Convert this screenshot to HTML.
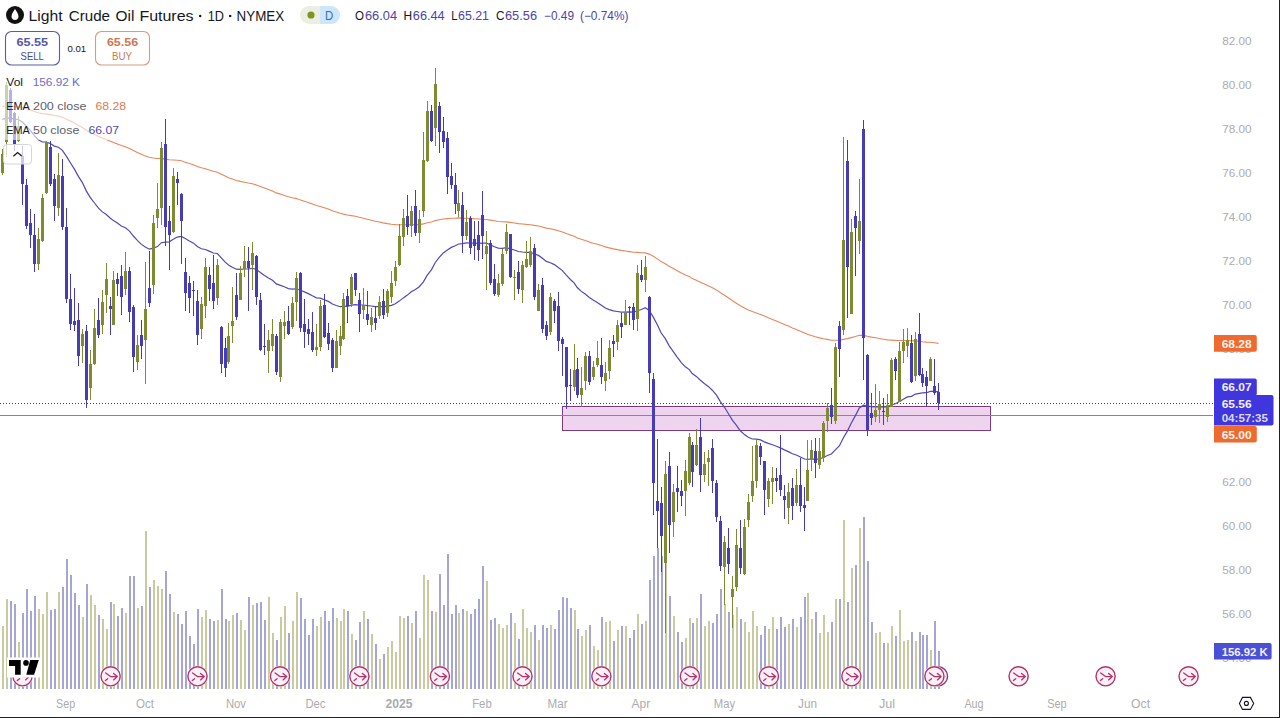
<!DOCTYPE html>
<html><head><meta charset="utf-8"><style>
html,body{margin:0;padding:0;background:#fff;}
body{width:1280px;height:718px;overflow:hidden;position:relative;}
svg{position:absolute;left:0;top:0;font-family:"Liberation Sans", sans-serif;}
</style></head><body>
<svg width="1280" height="718" viewBox="0 0 1280 718">
<g shape-rendering="crispEdges"><rect x="2" y="626" width="2" height="63" fill="#c8caa0"/><rect x="6" y="599" width="2" height="90" fill="#c8caa0"/><rect x="10" y="601" width="2" height="88" fill="#a6a6d6"/><rect x="14" y="604" width="2" height="85" fill="#a6a6d6"/><rect x="18" y="642" width="2" height="47" fill="#c8caa0"/><rect x="22" y="613" width="2" height="76" fill="#a6a6d6"/><rect x="26" y="589" width="2" height="100" fill="#a6a6d6"/><rect x="30" y="611" width="2" height="78" fill="#a6a6d6"/><rect x="34" y="596" width="2" height="93" fill="#a6a6d6"/><rect x="38" y="609" width="2" height="80" fill="#c8caa0"/><rect x="42" y="614" width="2" height="75" fill="#c8caa0"/><rect x="46" y="592" width="2" height="97" fill="#c8caa0"/><rect x="50" y="610" width="2" height="79" fill="#a6a6d6"/><rect x="54" y="609" width="2" height="80" fill="#a6a6d6"/><rect x="58" y="592" width="2" height="97" fill="#c8caa0"/><rect x="62" y="587" width="2" height="102" fill="#a6a6d6"/><rect x="66" y="559" width="2" height="130" fill="#a6a6d6"/><rect x="70" y="575" width="2" height="114" fill="#a6a6d6"/><rect x="74" y="593" width="2" height="96" fill="#a6a6d6"/><rect x="78" y="605" width="2" height="84" fill="#a6a6d6"/><rect x="82" y="617" width="2" height="72" fill="#c8caa0"/><rect x="86" y="584" width="2" height="105" fill="#a6a6d6"/><rect x="90" y="595" width="2" height="94" fill="#c8caa0"/><rect x="94" y="605" width="2" height="84" fill="#c8caa0"/><rect x="98" y="615" width="2" height="74" fill="#a6a6d6"/><rect x="102" y="619" width="2" height="70" fill="#c8caa0"/><rect x="106" y="629" width="2" height="60" fill="#c8caa0"/><rect x="110" y="602" width="2" height="87" fill="#a6a6d6"/><rect x="113" y="604" width="2" height="85" fill="#c8caa0"/><rect x="117" y="616" width="2" height="73" fill="#a6a6d6"/><rect x="121" y="608" width="2" height="81" fill="#a6a6d6"/><rect x="125" y="613" width="2" height="76" fill="#c8caa0"/><rect x="129" y="576" width="2" height="113" fill="#a6a6d6"/><rect x="133" y="576" width="2" height="113" fill="#a6a6d6"/><rect x="137" y="608" width="2" height="81" fill="#c8caa0"/><rect x="141" y="606" width="2" height="83" fill="#a6a6d6"/><rect x="145" y="531" width="2" height="158" fill="#c8caa0"/><rect x="149" y="587" width="2" height="102" fill="#a6a6d6"/><rect x="153" y="580" width="2" height="109" fill="#c8caa0"/><rect x="157" y="586" width="2" height="103" fill="#c8caa0"/><rect x="161" y="589" width="2" height="100" fill="#c8caa0"/><rect x="165" y="571" width="2" height="118" fill="#a6a6d6"/><rect x="169" y="594" width="2" height="95" fill="#a6a6d6"/><rect x="173" y="612" width="2" height="77" fill="#c8caa0"/><rect x="177" y="614" width="2" height="75" fill="#a6a6d6"/><rect x="181" y="624" width="2" height="65" fill="#a6a6d6"/><rect x="185" y="611" width="2" height="78" fill="#a6a6d6"/><rect x="189" y="636" width="2" height="53" fill="#a6a6d6"/><rect x="193" y="644" width="2" height="45" fill="#a6a6d6"/><rect x="197" y="609" width="2" height="80" fill="#a6a6d6"/><rect x="201" y="617" width="2" height="72" fill="#c8caa0"/><rect x="205" y="610" width="2" height="79" fill="#c8caa0"/><rect x="209" y="619" width="2" height="70" fill="#a6a6d6"/><rect x="213" y="621" width="2" height="68" fill="#a6a6d6"/><rect x="217" y="620" width="2" height="69" fill="#c8caa0"/><rect x="221" y="589" width="2" height="100" fill="#a6a6d6"/><rect x="225" y="619" width="2" height="70" fill="#a6a6d6"/><rect x="228" y="621" width="2" height="68" fill="#c8caa0"/><rect x="232" y="615" width="2" height="74" fill="#c8caa0"/><rect x="236" y="613" width="2" height="76" fill="#a6a6d6"/><rect x="240" y="620" width="2" height="69" fill="#c8caa0"/><rect x="244" y="630" width="2" height="59" fill="#c8caa0"/><rect x="248" y="597" width="2" height="92" fill="#a6a6d6"/><rect x="252" y="605" width="2" height="84" fill="#c8caa0"/><rect x="256" y="603" width="2" height="86" fill="#a6a6d6"/><rect x="260" y="602" width="2" height="87" fill="#a6a6d6"/><rect x="264" y="620" width="2" height="69" fill="#a6a6d6"/><rect x="268" y="597" width="2" height="92" fill="#c8caa0"/><rect x="272" y="633" width="2" height="56" fill="#c8caa0"/><rect x="276" y="640" width="2" height="49" fill="#a6a6d6"/><rect x="280" y="617" width="2" height="72" fill="#c8caa0"/><rect x="284" y="606" width="2" height="83" fill="#c8caa0"/><rect x="288" y="633" width="2" height="56" fill="#a6a6d6"/><rect x="292" y="621" width="2" height="68" fill="#c8caa0"/><rect x="296" y="592" width="2" height="97" fill="#c8caa0"/><rect x="300" y="598" width="2" height="91" fill="#a6a6d6"/><rect x="304" y="619" width="2" height="70" fill="#a6a6d6"/><rect x="308" y="635" width="2" height="54" fill="#a6a6d6"/><rect x="312" y="619" width="2" height="70" fill="#a6a6d6"/><rect x="316" y="626" width="2" height="63" fill="#c8caa0"/><rect x="320" y="617" width="2" height="72" fill="#c8caa0"/><rect x="324" y="611" width="2" height="78" fill="#a6a6d6"/><rect x="328" y="621" width="2" height="68" fill="#a6a6d6"/><rect x="332" y="608" width="2" height="81" fill="#a6a6d6"/><rect x="336" y="618" width="2" height="71" fill="#c8caa0"/><rect x="340" y="621" width="2" height="68" fill="#c8caa0"/><rect x="343" y="609" width="2" height="80" fill="#c8caa0"/><rect x="347" y="611" width="2" height="78" fill="#a6a6d6"/><rect x="351" y="634" width="2" height="55" fill="#c8caa0"/><rect x="355" y="640" width="2" height="49" fill="#a6a6d6"/><rect x="359" y="622" width="2" height="67" fill="#a6a6d6"/><rect x="363" y="611" width="2" height="78" fill="#c8caa0"/><rect x="367" y="619" width="2" height="70" fill="#a6a6d6"/><rect x="371" y="634" width="2" height="55" fill="#c8caa0"/><rect x="375" y="644" width="2" height="45" fill="#a6a6d6"/><rect x="379" y="659" width="2" height="30" fill="#c8caa0"/><rect x="383" y="654" width="2" height="35" fill="#a6a6d6"/><rect x="387" y="647" width="2" height="42" fill="#c8caa0"/><rect x="391" y="641" width="2" height="48" fill="#c8caa0"/><rect x="395" y="652" width="2" height="37" fill="#c8caa0"/><rect x="399" y="616" width="2" height="73" fill="#c8caa0"/><rect x="403" y="618" width="2" height="71" fill="#c8caa0"/><rect x="407" y="616" width="2" height="73" fill="#a6a6d6"/><rect x="411" y="623" width="2" height="66" fill="#c8caa0"/><rect x="415" y="611" width="2" height="78" fill="#a6a6d6"/><rect x="419" y="638" width="2" height="51" fill="#c8caa0"/><rect x="423" y="575" width="2" height="114" fill="#c8caa0"/><rect x="427" y="580" width="2" height="109" fill="#c8caa0"/><rect x="431" y="611" width="2" height="78" fill="#a6a6d6"/><rect x="435" y="612" width="2" height="77" fill="#c8caa0"/><rect x="439" y="574" width="2" height="115" fill="#a6a6d6"/><rect x="443" y="605" width="2" height="84" fill="#a6a6d6"/><rect x="447" y="554" width="2" height="135" fill="#a6a6d6"/><rect x="451" y="614" width="2" height="75" fill="#a6a6d6"/><rect x="455" y="605" width="2" height="84" fill="#a6a6d6"/><rect x="458" y="613" width="2" height="76" fill="#c8caa0"/><rect x="462" y="609" width="2" height="80" fill="#a6a6d6"/><rect x="466" y="611" width="2" height="78" fill="#c8caa0"/><rect x="470" y="614" width="2" height="75" fill="#a6a6d6"/><rect x="474" y="609" width="2" height="80" fill="#a6a6d6"/><rect x="478" y="599" width="2" height="90" fill="#a6a6d6"/><rect x="482" y="566" width="2" height="123" fill="#a6a6d6"/><rect x="486" y="581" width="2" height="108" fill="#c8caa0"/><rect x="490" y="620" width="2" height="69" fill="#a6a6d6"/><rect x="494" y="618" width="2" height="71" fill="#a6a6d6"/><rect x="498" y="624" width="2" height="65" fill="#c8caa0"/><rect x="502" y="628" width="2" height="61" fill="#c8caa0"/><rect x="506" y="625" width="2" height="64" fill="#c8caa0"/><rect x="510" y="613" width="2" height="76" fill="#a6a6d6"/><rect x="514" y="623" width="2" height="66" fill="#c8caa0"/><rect x="518" y="639" width="2" height="50" fill="#a6a6d6"/><rect x="522" y="609" width="2" height="80" fill="#c8caa0"/><rect x="526" y="628" width="2" height="61" fill="#c8caa0"/><rect x="530" y="632" width="2" height="57" fill="#c8caa0"/><rect x="534" y="625" width="2" height="64" fill="#a6a6d6"/><rect x="538" y="640" width="2" height="49" fill="#c8caa0"/><rect x="542" y="625" width="2" height="64" fill="#a6a6d6"/><rect x="546" y="628" width="2" height="61" fill="#a6a6d6"/><rect x="550" y="625" width="2" height="64" fill="#c8caa0"/><rect x="554" y="629" width="2" height="60" fill="#a6a6d6"/><rect x="558" y="610" width="2" height="79" fill="#a6a6d6"/><rect x="562" y="597" width="2" height="92" fill="#a6a6d6"/><rect x="566" y="598" width="2" height="91" fill="#a6a6d6"/><rect x="570" y="608" width="2" height="81" fill="#a6a6d6"/><rect x="574" y="610" width="2" height="79" fill="#c8caa0"/><rect x="577" y="629" width="2" height="60" fill="#a6a6d6"/><rect x="581" y="636" width="2" height="53" fill="#c8caa0"/><rect x="585" y="630" width="2" height="59" fill="#c8caa0"/><rect x="589" y="625" width="2" height="64" fill="#a6a6d6"/><rect x="593" y="646" width="2" height="43" fill="#c8caa0"/><rect x="597" y="650" width="2" height="39" fill="#c8caa0"/><rect x="601" y="617" width="2" height="72" fill="#a6a6d6"/><rect x="605" y="622" width="2" height="67" fill="#c8caa0"/><rect x="609" y="621" width="2" height="68" fill="#c8caa0"/><rect x="613" y="641" width="2" height="48" fill="#a6a6d6"/><rect x="617" y="630" width="2" height="59" fill="#c8caa0"/><rect x="621" y="626" width="2" height="63" fill="#a6a6d6"/><rect x="625" y="626" width="2" height="63" fill="#c8caa0"/><rect x="629" y="638" width="2" height="51" fill="#a6a6d6"/><rect x="633" y="630" width="2" height="59" fill="#a6a6d6"/><rect x="637" y="614" width="2" height="75" fill="#c8caa0"/><rect x="641" y="624" width="2" height="65" fill="#a6a6d6"/><rect x="645" y="621" width="2" height="68" fill="#c8caa0"/><rect x="649" y="580" width="2" height="109" fill="#a6a6d6"/><rect x="653" y="556" width="2" height="133" fill="#a6a6d6"/><rect x="657" y="548" width="2" height="141" fill="#a6a6d6"/><rect x="661" y="556" width="2" height="133" fill="#a6a6d6"/><rect x="665" y="545" width="2" height="144" fill="#c8caa0"/><rect x="669" y="596" width="2" height="93" fill="#a6a6d6"/><rect x="673" y="616" width="2" height="73" fill="#c8caa0"/><rect x="677" y="632" width="2" height="57" fill="#a6a6d6"/><rect x="681" y="642" width="2" height="47" fill="#a6a6d6"/><rect x="685" y="638" width="2" height="51" fill="#c8caa0"/><rect x="689" y="618" width="2" height="71" fill="#c8caa0"/><rect x="692" y="623" width="2" height="66" fill="#a6a6d6"/><rect x="696" y="618" width="2" height="71" fill="#c8caa0"/><rect x="700" y="594" width="2" height="95" fill="#a6a6d6"/><rect x="704" y="626" width="2" height="63" fill="#c8caa0"/><rect x="708" y="621" width="2" height="68" fill="#c8caa0"/><rect x="712" y="623" width="2" height="66" fill="#a6a6d6"/><rect x="716" y="614" width="2" height="75" fill="#a6a6d6"/><rect x="720" y="589" width="2" height="100" fill="#a6a6d6"/><rect x="724" y="604" width="2" height="85" fill="#c8caa0"/><rect x="728" y="612" width="2" height="77" fill="#a6a6d6"/><rect x="732" y="615" width="2" height="74" fill="#c8caa0"/><rect x="736" y="607" width="2" height="82" fill="#c8caa0"/><rect x="740" y="619" width="2" height="70" fill="#a6a6d6"/><rect x="744" y="622" width="2" height="67" fill="#c8caa0"/><rect x="748" y="632" width="2" height="57" fill="#c8caa0"/><rect x="752" y="611" width="2" height="78" fill="#c8caa0"/><rect x="756" y="626" width="2" height="63" fill="#c8caa0"/><rect x="760" y="635" width="2" height="54" fill="#a6a6d6"/><rect x="764" y="626" width="2" height="63" fill="#a6a6d6"/><rect x="768" y="629" width="2" height="60" fill="#c8caa0"/><rect x="772" y="617" width="2" height="72" fill="#c8caa0"/><rect x="776" y="629" width="2" height="60" fill="#a6a6d6"/><rect x="780" y="617" width="2" height="72" fill="#a6a6d6"/><rect x="784" y="627" width="2" height="62" fill="#a6a6d6"/><rect x="788" y="624" width="2" height="65" fill="#c8caa0"/><rect x="792" y="619" width="2" height="70" fill="#a6a6d6"/><rect x="796" y="627" width="2" height="62" fill="#c8caa0"/><rect x="800" y="617" width="2" height="72" fill="#a6a6d6"/><rect x="804" y="597" width="2" height="92" fill="#a6a6d6"/><rect x="807" y="593" width="2" height="96" fill="#c8caa0"/><rect x="811" y="619" width="2" height="70" fill="#c8caa0"/><rect x="815" y="612" width="2" height="77" fill="#a6a6d6"/><rect x="819" y="633" width="2" height="56" fill="#c8caa0"/><rect x="823" y="615" width="2" height="74" fill="#c8caa0"/><rect x="827" y="632" width="2" height="57" fill="#c8caa0"/><rect x="831" y="622" width="2" height="67" fill="#a6a6d6"/><rect x="835" y="599" width="2" height="90" fill="#c8caa0"/><rect x="839" y="599" width="2" height="90" fill="#a6a6d6"/><rect x="843" y="520" width="2" height="169" fill="#c8caa0"/><rect x="847" y="602" width="2" height="87" fill="#a6a6d6"/><rect x="851" y="568" width="2" height="121" fill="#c8caa0"/><rect x="855" y="565" width="2" height="124" fill="#a6a6d6"/><rect x="859" y="528" width="2" height="161" fill="#c8caa0"/><rect x="863" y="517" width="2" height="172" fill="#a6a6d6"/><rect x="867" y="561" width="2" height="128" fill="#a6a6d6"/><rect x="871" y="622" width="2" height="67" fill="#a6a6d6"/><rect x="875" y="633" width="2" height="56" fill="#c8caa0"/><rect x="879" y="632" width="2" height="57" fill="#c8caa0"/><rect x="883" y="643" width="2" height="46" fill="#a6a6d6"/><rect x="887" y="643" width="2" height="46" fill="#c8caa0"/><rect x="891" y="626" width="2" height="63" fill="#c8caa0"/><rect x="895" y="636" width="2" height="53" fill="#a6a6d6"/><rect x="899" y="610" width="2" height="79" fill="#c8caa0"/><rect x="903" y="641" width="2" height="48" fill="#c8caa0"/><rect x="907" y="640" width="2" height="49" fill="#c8caa0"/><rect x="911" y="632" width="2" height="57" fill="#a6a6d6"/><rect x="915" y="641" width="2" height="48" fill="#c8caa0"/><rect x="919" y="632" width="2" height="57" fill="#a6a6d6"/><rect x="922" y="635" width="2" height="54" fill="#a6a6d6"/><rect x="926" y="635" width="2" height="54" fill="#a6a6d6"/><rect x="930" y="650" width="2" height="39" fill="#c8caa0"/><rect x="934" y="621" width="2" height="68" fill="#a6a6d6"/><rect x="938" y="651" width="2" height="38" fill="#a6a6d6"/></g>
<g transform="translate(22.5,676.3)"><circle r="10.6" fill="#fff"/><circle r="9.6" fill="#fdf0f6" stroke="#b3336a" stroke-width="1.4"/><path d="M-4.9,-3.4 L-0.1,0.3 L6.6,0.3 M3,-2.9 L6.7,0.3 L3,3.6 M-5.2,4.2 L-2.9,2.4" fill="none" stroke="#b3336a" stroke-width="1.3" stroke-linecap="round" stroke-linejoin="round"/></g><g transform="translate(110.6,676.3)"><circle r="10.6" fill="#fff"/><circle r="9.6" fill="#fdf0f6" stroke="#b3336a" stroke-width="1.4"/><path d="M-4.9,-3.4 L-0.1,0.3 L6.6,0.3 M3,-2.9 L6.7,0.3 L3,3.6 M-5.2,4.2 L-2.9,2.4" fill="none" stroke="#b3336a" stroke-width="1.3" stroke-linecap="round" stroke-linejoin="round"/></g><g transform="translate(197.5,676.3)"><circle r="10.6" fill="#fff"/><circle r="9.6" fill="#fdf0f6" stroke="#b3336a" stroke-width="1.4"/><path d="M-4.9,-3.4 L-0.1,0.3 L6.6,0.3 M3,-2.9 L6.7,0.3 L3,3.6 M-5.2,4.2 L-2.9,2.4" fill="none" stroke="#b3336a" stroke-width="1.3" stroke-linecap="round" stroke-linejoin="round"/></g><g transform="translate(280,676.3)"><circle r="10.6" fill="#fff"/><circle r="9.6" fill="#fdf0f6" stroke="#b3336a" stroke-width="1.4"/><path d="M-4.9,-3.4 L-0.1,0.3 L6.6,0.3 M3,-2.9 L6.7,0.3 L3,3.6 M-5.2,4.2 L-2.9,2.4" fill="none" stroke="#b3336a" stroke-width="1.3" stroke-linecap="round" stroke-linejoin="round"/></g><g transform="translate(359.4,676.3)"><circle r="10.6" fill="#fff"/><circle r="9.6" fill="#fdf0f6" stroke="#b3336a" stroke-width="1.4"/><path d="M-4.9,-3.4 L-0.1,0.3 L6.6,0.3 M3,-2.9 L6.7,0.3 L3,3.6 M-5.2,4.2 L-2.9,2.4" fill="none" stroke="#b3336a" stroke-width="1.3" stroke-linecap="round" stroke-linejoin="round"/></g><g transform="translate(439.9,676.3)"><circle r="10.6" fill="#fff"/><circle r="9.6" fill="#fdf0f6" stroke="#b3336a" stroke-width="1.4"/><path d="M-4.9,-3.4 L-0.1,0.3 L6.6,0.3 M3,-2.9 L6.7,0.3 L3,3.6 M-5.2,4.2 L-2.9,2.4" fill="none" stroke="#b3336a" stroke-width="1.3" stroke-linecap="round" stroke-linejoin="round"/></g><g transform="translate(522.5,676.3)"><circle r="10.6" fill="#fff"/><circle r="9.6" fill="#fdf0f6" stroke="#b3336a" stroke-width="1.4"/><path d="M-4.9,-3.4 L-0.1,0.3 L6.6,0.3 M3,-2.9 L6.7,0.3 L3,3.6 M-5.2,4.2 L-2.9,2.4" fill="none" stroke="#b3336a" stroke-width="1.3" stroke-linecap="round" stroke-linejoin="round"/></g><g transform="translate(601.4,676.3)"><circle r="10.6" fill="#fff"/><circle r="9.6" fill="#fdf0f6" stroke="#b3336a" stroke-width="1.4"/><path d="M-4.9,-3.4 L-0.1,0.3 L6.6,0.3 M3,-2.9 L6.7,0.3 L3,3.6 M-5.2,4.2 L-2.9,2.4" fill="none" stroke="#b3336a" stroke-width="1.3" stroke-linecap="round" stroke-linejoin="round"/></g><g transform="translate(689.9,676.3)"><circle r="10.6" fill="#fff"/><circle r="9.6" fill="#fdf0f6" stroke="#b3336a" stroke-width="1.4"/><path d="M-4.9,-3.4 L-0.1,0.3 L6.6,0.3 M3,-2.9 L6.7,0.3 L3,3.6 M-5.2,4.2 L-2.9,2.4" fill="none" stroke="#b3336a" stroke-width="1.3" stroke-linecap="round" stroke-linejoin="round"/></g><g transform="translate(768.9,676.3)"><circle r="10.6" fill="#fff"/><circle r="9.6" fill="#fdf0f6" stroke="#b3336a" stroke-width="1.4"/><path d="M-4.9,-3.4 L-0.1,0.3 L6.6,0.3 M3,-2.9 L6.7,0.3 L3,3.6 M-5.2,4.2 L-2.9,2.4" fill="none" stroke="#b3336a" stroke-width="1.3" stroke-linecap="round" stroke-linejoin="round"/></g><g transform="translate(851.4,676.3)"><circle r="10.6" fill="#fff"/><circle r="9.6" fill="#fdf0f6" stroke="#b3336a" stroke-width="1.4"/><path d="M-4.9,-3.4 L-0.1,0.3 L6.6,0.3 M3,-2.9 L6.7,0.3 L3,3.6 M-5.2,4.2 L-2.9,2.4" fill="none" stroke="#b3336a" stroke-width="1.3" stroke-linecap="round" stroke-linejoin="round"/></g><g transform="translate(938,676.3)"><circle r="10.6" fill="#fff"/><circle r="9.6" fill="#fdf0f6" stroke="#8a3a7a" stroke-width="1.4"/><path d="M-4.9,-3.4 L-0.1,0.3 L6.6,0.3 M3,-2.9 L6.7,0.3 L3,3.6 M-5.2,4.2 L-2.9,2.4" fill="none" stroke="#8a3a7a" stroke-width="1.3" stroke-linecap="round" stroke-linejoin="round"/></g><g transform="translate(934.4,676.3)"><circle r="10.6" fill="#fff"/><circle r="9.6" fill="#fdf0f6" stroke="#b3336a" stroke-width="1.4"/><path d="M-4.9,-3.4 L-0.1,0.3 L6.6,0.3 M3,-2.9 L6.7,0.3 L3,3.6 M-5.2,4.2 L-2.9,2.4" fill="none" stroke="#b3336a" stroke-width="1.3" stroke-linecap="round" stroke-linejoin="round"/></g><g transform="translate(1018.6,676.3)"><circle r="10.6" fill="#fff"/><circle r="9.6" fill="#fdf0f6" stroke="#b3336a" stroke-width="1.4"/><path d="M-4.9,-3.4 L-0.1,0.3 L6.6,0.3 M3,-2.9 L6.7,0.3 L3,3.6 M-5.2,4.2 L-2.9,2.4" fill="none" stroke="#b3336a" stroke-width="1.3" stroke-linecap="round" stroke-linejoin="round"/></g><g transform="translate(1105.6,676.3)"><circle r="10.6" fill="#fff"/><circle r="9.6" fill="#fdf0f6" stroke="#b3336a" stroke-width="1.4"/><path d="M-4.9,-3.4 L-0.1,0.3 L6.6,0.3 M3,-2.9 L6.7,0.3 L3,3.6 M-5.2,4.2 L-2.9,2.4" fill="none" stroke="#b3336a" stroke-width="1.3" stroke-linecap="round" stroke-linejoin="round"/></g><g transform="translate(1188.6,676.3)"><circle r="10.6" fill="#fff"/><circle r="9.6" fill="#fdf0f6" stroke="#b3336a" stroke-width="1.4"/><path d="M-4.9,-3.4 L-0.1,0.3 L6.6,0.3 M3,-2.9 L6.7,0.3 L3,3.6 M-5.2,4.2 L-2.9,2.4" fill="none" stroke="#b3336a" stroke-width="1.3" stroke-linecap="round" stroke-linejoin="round"/></g>
<line x1="0" y1="403.5" x2="1213" y2="403.5" stroke="#454545" stroke-width="1" stroke-dasharray="1,2"/><rect x="562.5" y="406.5" width="428" height="24" fill="#efd4ef" stroke="#7d3b7b" stroke-width="1"/><line x1="0" y1="415.5" x2="1213" y2="415.5" stroke="#b47a5c" stroke-width="1"/>
<polyline points="2.3,106.3 6.6,106.1 10.3,106.2 14.4,106.6 18.3,106.8 22.3,107.6 26.4,108.7 30.3,110.0 34.4,111.5 38.3,112.8 42.4,113.6 46.3,113.9 50.4,114.6 54.3,115.5 58.4,116.1 62.4,117.2 66.3,119.0 70.4,121.1 74.4,123.1 78.4,125.4 82.4,127.5 86.4,130.2 90.5,132.5 94.5,134.5 98.5,136.5 102.4,138.1 106.3,139.5 110.4,141.2 113.5,142.6 117.4,144.0 121.3,145.5 125.4,146.8 129.5,148.4 133.4,150.5 137.3,152.4 141.4,154.3 145.3,155.9 149.2,157.3 153.3,158.0 157.5,158.5 161.4,158.4 165.3,159.1 169.2,159.8 173.3,160.0 177.2,160.2 181.3,160.8 185.2,162.2 189.3,163.5 193.2,164.8 197.3,166.5 201.4,167.8 205.3,168.8 209.2,170.0 213.3,171.3 217.3,172.3 221.3,174.2 225.2,176.1 228.5,177.7 232.4,179.1 236.3,180.5 240.3,181.4 244.4,182.2 248.3,183.0 252.4,183.7 256.3,184.9 260.4,186.5 264.5,188.1 268.4,189.6 272.5,191.1 276.3,192.9 280.4,194.1 284.3,195.4 288.4,196.8 292.3,197.8 296.4,198.6 300.5,199.9 304.4,201.2 308.3,202.6 312.4,204.0 316.4,205.5 320.3,206.5 324.2,207.8 328.3,209.1 332.4,210.7 336.3,212.0 340.2,213.2 343.5,214.1 347.4,215.0 351.3,215.6 355.4,216.3 359.3,217.3 363.3,218.2 367.2,219.2 371.3,220.2 375.2,221.2 379.3,222.0 383.2,222.9 387.3,223.6 391.4,224.2 395.3,224.6 399.2,224.7 403.3,224.7 407.4,224.7 411.3,224.6 415.4,224.6 419.3,224.6 423.4,223.9 427.3,222.8 431.4,222.0 435.3,220.6 439.2,219.8 443.3,219.0 447.4,218.6 451.3,218.2 455.3,218.1 458.6,217.9 462.5,218.1 466.6,218.2 470.5,218.4 474.4,218.7 478.5,219.0 482.4,219.2 486.5,219.5 490.4,220.1 494.4,220.8 498.3,221.5 502.4,221.8 506.3,221.9 510.4,222.4 514.3,223.0 518.4,223.6 522.5,224.0 526.4,224.4 530.3,224.7 534.4,225.4 538.5,226.0 542.4,227.0 546.3,228.1 550.4,228.8 554.4,229.6 558.3,230.7 562.4,231.9 566.3,233.4 570.4,234.9 574.3,236.3 577.2,237.9 581.3,239.3 585.2,240.5 589.3,241.9 593.2,243.2 597.3,244.3 601.4,245.6 605.3,246.9 609.2,247.9 613.3,248.9 617.4,249.6 621.3,250.4 625.5,251.0 629.4,251.6 633.3,252.2 637.3,252.4 641.4,252.7 645.3,252.9 649.2,254.1 653.3,256.3 657.3,258.9 661.2,261.6 665.3,263.7 669.2,266.3 673.3,268.6 677.2,270.8 681.3,273.0 685.4,275.0 689.3,276.6 692.2,278.6 696.3,280.2 700.4,282.2 704.3,284.0 708.2,285.7 712.3,287.7 716.5,289.9 720.5,292.7 724.5,295.2 728.3,297.8 732.5,300.7 736.3,303.2 740.3,305.8 744.5,308.0 748.3,309.9 752.3,311.6 756.5,313.0 760.5,314.4 764.3,316.1 768.3,317.8 772.4,319.4 776.4,321.0 780.4,322.7 784.4,324.4 788.4,326.1 792.4,327.9 796.3,329.5 800.4,331.2 804.5,333.0 807.4,334.3 811.3,335.5 815.4,336.8 819.5,337.9 823.4,338.7 827.3,339.4 831.4,340.2 835.3,340.3 839.3,340.3 843.4,339.4 847.4,338.6 851.2,337.6 855.4,336.5 859.3,335.3 863.4,335.4 867.4,336.3 871.5,337.1 875.6,337.8 879.5,338.5 883.6,339.2 887.5,339.9 891.4,340.1 895.5,340.4 899.4,340.5 903.3,340.5 907.4,340.5 911.5,340.9 915.4,340.9 919.5,341.2 922.4,341.7 926.5,342.1 930.4,342.3 934.5,342.8 938.6,343.4" fill="none" stroke="#e6875c" stroke-width="1.1"/><polyline points="2.3,119.4 6.6,118.1 10.3,118.2 14.4,119.2 18.3,119.5 22.3,122.0 26.4,126.1 30.3,130.4 34.4,135.6 38.3,139.7 42.4,142.0 46.3,142.0 50.4,143.6 54.3,146.1 58.4,147.2 62.4,150.3 66.3,156.1 70.4,162.7 74.4,169.1 78.4,176.4 82.4,182.6 86.4,191.1 90.5,197.9 94.5,203.0 98.5,208.2 102.4,211.9 106.3,214.5 110.4,218.2 113.5,220.6 117.4,223.1 121.3,226.0 125.4,227.8 129.5,231.1 133.4,236.0 137.3,240.3 141.4,244.4 145.3,247.0 149.2,249.2 153.3,248.1 157.5,246.6 161.4,242.7 165.3,242.1 169.2,241.8 173.3,239.3 177.2,237.1 181.3,236.4 185.2,238.6 189.3,241.0 193.2,242.9 197.3,246.5 201.4,248.8 205.3,249.5 209.2,251.1 213.3,253.0 217.3,253.5 221.3,257.8 225.2,262.1 228.5,265.0 232.4,267.2 236.3,269.2 240.3,269.3 244.4,269.0 248.3,269.0 252.4,268.3 256.3,269.5 260.4,272.6 264.5,275.5 268.4,278.1 272.5,280.3 276.3,283.9 280.4,285.4 284.3,286.8 288.4,288.6 292.3,289.2 296.4,288.8 300.5,290.3 304.4,291.9 308.3,293.6 312.4,295.8 316.4,297.8 320.3,298.1 324.2,299.7 328.3,301.4 332.4,304.0 336.3,305.5 340.2,306.7 343.5,306.4 347.4,306.3 351.3,305.2 355.4,304.6 359.3,305.0 363.3,305.0 367.2,305.6 371.3,306.0 375.2,306.7 379.3,306.5 383.2,306.8 387.3,306.2 391.4,305.3 395.3,303.8 399.2,301.1 403.3,297.9 407.4,295.1 411.3,291.8 415.4,289.5 419.3,286.7 423.4,281.8 427.3,275.1 431.4,269.8 435.3,262.5 439.2,257.4 443.3,252.9 447.4,249.9 451.3,247.4 455.3,245.7 458.6,244.0 462.5,243.7 466.6,242.8 470.5,243.0 474.4,243.1 478.5,243.4 482.4,243.1 486.5,243.2 490.4,244.8 494.4,246.7 498.3,248.1 502.4,248.4 506.3,247.7 510.4,248.9 514.3,250.0 518.4,251.5 522.5,252.0 526.4,252.3 530.3,252.3 534.4,254.0 538.5,255.4 542.4,258.3 546.3,261.4 550.4,262.8 554.4,264.6 558.3,267.6 562.4,270.6 566.3,275.2 570.4,279.5 574.3,283.1 577.2,287.5 581.3,291.4 585.2,294.0 589.3,297.4 593.2,300.1 597.3,302.4 601.4,305.3 605.3,308.0 609.2,309.6 613.3,310.9 617.4,311.5 621.3,312.1 625.5,312.1 629.4,311.9 633.3,312.2 637.3,310.7 641.4,309.5 645.3,307.8 649.2,310.4 653.3,317.1 657.3,324.7 661.2,333.0 665.3,338.6 669.2,345.9 673.3,351.6 677.2,357.1 681.3,362.6 685.4,366.8 689.3,369.6 692.2,373.6 696.3,376.4 700.4,380.2 704.3,383.5 708.2,386.4 712.3,390.2 716.5,395.1 720.5,401.8 724.5,407.3 728.3,413.5 732.5,420.4 736.3,425.2 740.3,430.8 744.5,434.6 748.3,437.3 752.3,439.0 756.5,439.2 760.5,439.9 764.3,441.9 768.3,443.4 772.4,444.8 776.4,446.2 780.4,447.9 784.4,449.9 788.4,451.6 792.4,453.7 796.3,455.0 800.4,457.0 804.5,459.0 807.4,459.4 811.3,459.0 815.4,459.2 819.5,458.9 823.4,457.5 827.3,455.5 831.4,454.0 835.3,449.8 839.3,445.9 843.4,437.8 847.4,431.1 851.2,423.3 855.4,415.6 859.3,408.0 863.4,405.2 867.4,406.2 871.5,406.7 875.6,406.8 879.5,406.7 883.6,406.9 887.5,406.8 891.4,405.0 895.5,403.7 899.4,401.6 903.3,399.3 907.4,396.9 911.5,396.3 915.4,394.1 919.5,393.3 922.4,392.9 926.5,392.7 930.4,391.4 934.5,391.4 938.6,391.9" fill="none" stroke="#4f49b6" stroke-width="1.2"/>
<g shape-rendering="crispEdges"><rect x="2" y="149" width="1" height="26" fill="#7f8b30"/><rect x="1" y="154" width="3" height="19" fill="#7f8b30"/><rect x="6" y="82" width="1" height="75" fill="#7f8b30"/><rect x="5" y="85" width="3" height="57" fill="#7f8b30"/><rect x="10" y="88" width="1" height="35" fill="#463cb5"/><rect x="9" y="90" width="3" height="32" fill="#463cb5"/><rect x="14" y="112" width="1" height="39" fill="#463cb5"/><rect x="13" y="113" width="3" height="31" fill="#463cb5"/><rect x="18" y="116" width="1" height="26" fill="#7f8b30"/><rect x="17" y="126" width="3" height="15" fill="#7f8b30"/><rect x="22" y="146" width="1" height="59" fill="#463cb5"/><rect x="21" y="156" width="3" height="28" fill="#463cb5"/><rect x="26" y="179" width="1" height="50" fill="#463cb5"/><rect x="25" y="185" width="3" height="41" fill="#463cb5"/><rect x="30" y="209" width="1" height="39" fill="#463cb5"/><rect x="29" y="223" width="3" height="12" fill="#463cb5"/><rect x="34" y="214" width="1" height="58" fill="#463cb5"/><rect x="33" y="235" width="3" height="29" fill="#463cb5"/><rect x="38" y="228" width="1" height="42" fill="#7f8b30"/><rect x="37" y="239" width="3" height="25" fill="#7f8b30"/><rect x="42" y="194" width="1" height="48" fill="#7f8b30"/><rect x="41" y="198" width="3" height="43" fill="#7f8b30"/><rect x="46" y="141" width="1" height="53" fill="#7f8b30"/><rect x="45" y="142" width="3" height="51" fill="#7f8b30"/><rect x="50" y="141" width="1" height="45" fill="#463cb5"/><rect x="49" y="147" width="3" height="37" fill="#463cb5"/><rect x="54" y="174" width="1" height="47" fill="#463cb5"/><rect x="53" y="179" width="3" height="27" fill="#463cb5"/><rect x="58" y="153" width="1" height="63" fill="#7f8b30"/><rect x="57" y="175" width="3" height="33" fill="#7f8b30"/><rect x="62" y="159" width="1" height="71" fill="#463cb5"/><rect x="61" y="176" width="3" height="51" fill="#463cb5"/><rect x="66" y="208" width="1" height="95" fill="#463cb5"/><rect x="65" y="227" width="3" height="72" fill="#463cb5"/><rect x="70" y="274" width="1" height="56" fill="#463cb5"/><rect x="69" y="299" width="3" height="25" fill="#463cb5"/><rect x="74" y="288" width="1" height="43" fill="#463cb5"/><rect x="73" y="321" width="3" height="4" fill="#463cb5"/><rect x="78" y="303" width="1" height="63" fill="#463cb5"/><rect x="77" y="320" width="3" height="36" fill="#463cb5"/><rect x="82" y="329" width="1" height="34" fill="#7f8b30"/><rect x="81" y="334" width="3" height="12" fill="#7f8b30"/><rect x="86" y="325" width="1" height="83" fill="#463cb5"/><rect x="85" y="331" width="3" height="69" fill="#463cb5"/><rect x="90" y="350" width="1" height="50" fill="#7f8b30"/><rect x="89" y="364" width="3" height="24" fill="#7f8b30"/><rect x="94" y="309" width="1" height="56" fill="#7f8b30"/><rect x="93" y="328" width="3" height="36" fill="#7f8b30"/><rect x="98" y="298" width="1" height="40" fill="#463cb5"/><rect x="97" y="320" width="3" height="15" fill="#463cb5"/><rect x="102" y="290" width="1" height="44" fill="#7f8b30"/><rect x="101" y="302" width="3" height="23" fill="#7f8b30"/><rect x="106" y="263" width="1" height="50" fill="#7f8b30"/><rect x="105" y="279" width="3" height="16" fill="#7f8b30"/><rect x="110" y="297" width="1" height="38" fill="#463cb5"/><rect x="109" y="306" width="3" height="3" fill="#463cb5"/><rect x="113" y="271" width="1" height="54" fill="#7f8b30"/><rect x="112" y="280" width="3" height="45" fill="#7f8b30"/><rect x="117" y="273" width="1" height="23" fill="#463cb5"/><rect x="116" y="279" width="3" height="5" fill="#463cb5"/><rect x="121" y="265" width="1" height="50" fill="#463cb5"/><rect x="120" y="276" width="3" height="21" fill="#463cb5"/><rect x="125" y="252" width="1" height="43" fill="#7f8b30"/><rect x="124" y="271" width="3" height="18" fill="#7f8b30"/><rect x="129" y="267" width="1" height="55" fill="#463cb5"/><rect x="128" y="271" width="3" height="41" fill="#463cb5"/><rect x="133" y="305" width="1" height="67" fill="#463cb5"/><rect x="132" y="307" width="3" height="50" fill="#463cb5"/><rect x="137" y="335" width="1" height="35" fill="#7f8b30"/><rect x="136" y="345" width="3" height="17" fill="#7f8b30"/><rect x="141" y="320" width="1" height="39" fill="#463cb5"/><rect x="140" y="335" width="3" height="11" fill="#463cb5"/><rect x="145" y="262" width="1" height="122" fill="#7f8b30"/><rect x="144" y="309" width="3" height="31" fill="#7f8b30"/><rect x="149" y="251" width="1" height="56" fill="#463cb5"/><rect x="148" y="288" width="3" height="15" fill="#463cb5"/><rect x="153" y="215" width="1" height="79" fill="#7f8b30"/><rect x="152" y="223" width="3" height="62" fill="#7f8b30"/><rect x="157" y="183" width="1" height="45" fill="#7f8b30"/><rect x="156" y="209" width="3" height="9" fill="#7f8b30"/><rect x="161" y="142" width="1" height="83" fill="#7f8b30"/><rect x="160" y="148" width="3" height="60" fill="#7f8b30"/><rect x="165" y="119" width="1" height="127" fill="#463cb5"/><rect x="164" y="144" width="3" height="83" fill="#463cb5"/><rect x="169" y="206" width="1" height="64" fill="#463cb5"/><rect x="168" y="221" width="3" height="14" fill="#463cb5"/><rect x="173" y="168" width="1" height="65" fill="#7f8b30"/><rect x="172" y="176" width="3" height="56" fill="#7f8b30"/><rect x="177" y="172" width="1" height="33" fill="#463cb5"/><rect x="176" y="179" width="3" height="4" fill="#463cb5"/><rect x="181" y="193" width="1" height="71" fill="#463cb5"/><rect x="180" y="194" width="3" height="27" fill="#463cb5"/><rect x="185" y="258" width="1" height="53" fill="#463cb5"/><rect x="184" y="272" width="3" height="21" fill="#463cb5"/><rect x="189" y="276" width="1" height="37" fill="#463cb5"/><rect x="188" y="283" width="3" height="15" fill="#463cb5"/><rect x="193" y="281" width="1" height="35" fill="#463cb5"/><rect x="192" y="290" width="3" height="1" fill="#463cb5"/><rect x="197" y="290" width="1" height="55" fill="#463cb5"/><rect x="196" y="301" width="3" height="34" fill="#463cb5"/><rect x="201" y="297" width="1" height="42" fill="#7f8b30"/><rect x="200" y="304" width="3" height="25" fill="#7f8b30"/><rect x="205" y="258" width="1" height="60" fill="#7f8b30"/><rect x="204" y="267" width="3" height="39" fill="#7f8b30"/><rect x="209" y="267" width="1" height="34" fill="#463cb5"/><rect x="208" y="275" width="3" height="14" fill="#463cb5"/><rect x="213" y="255" width="1" height="54" fill="#463cb5"/><rect x="212" y="283" width="3" height="18" fill="#463cb5"/><rect x="217" y="259" width="1" height="46" fill="#7f8b30"/><rect x="216" y="265" width="3" height="33" fill="#7f8b30"/><rect x="221" y="326" width="1" height="47" fill="#463cb5"/><rect x="220" y="327" width="3" height="37" fill="#463cb5"/><rect x="225" y="338" width="1" height="39" fill="#463cb5"/><rect x="224" y="348" width="3" height="20" fill="#463cb5"/><rect x="228" y="323" width="1" height="41" fill="#7f8b30"/><rect x="227" y="336" width="3" height="26" fill="#7f8b30"/><rect x="232" y="287" width="1" height="56" fill="#7f8b30"/><rect x="231" y="321" width="3" height="5" fill="#7f8b30"/><rect x="236" y="273" width="1" height="47" fill="#463cb5"/><rect x="235" y="295" width="3" height="22" fill="#463cb5"/><rect x="240" y="266" width="1" height="34" fill="#7f8b30"/><rect x="239" y="273" width="3" height="27" fill="#7f8b30"/><rect x="244" y="246" width="1" height="31" fill="#7f8b30"/><rect x="243" y="261" width="3" height="8" fill="#7f8b30"/><rect x="248" y="247" width="1" height="64" fill="#463cb5"/><rect x="247" y="261" width="3" height="7" fill="#463cb5"/><rect x="252" y="242" width="1" height="48" fill="#7f8b30"/><rect x="251" y="253" width="3" height="12" fill="#7f8b30"/><rect x="256" y="255" width="1" height="50" fill="#463cb5"/><rect x="255" y="256" width="3" height="41" fill="#463cb5"/><rect x="260" y="293" width="1" height="58" fill="#463cb5"/><rect x="259" y="300" width="3" height="50" fill="#463cb5"/><rect x="264" y="324" width="1" height="31" fill="#463cb5"/><rect x="263" y="346" width="3" height="1" fill="#463cb5"/><rect x="268" y="330" width="1" height="43" fill="#7f8b30"/><rect x="267" y="340" width="3" height="11" fill="#7f8b30"/><rect x="272" y="319" width="1" height="32" fill="#7f8b30"/><rect x="271" y="334" width="3" height="12" fill="#7f8b30"/><rect x="276" y="334" width="1" height="41" fill="#463cb5"/><rect x="275" y="336" width="3" height="36" fill="#463cb5"/><rect x="280" y="319" width="1" height="63" fill="#7f8b30"/><rect x="279" y="322" width="3" height="55" fill="#7f8b30"/><rect x="284" y="311" width="1" height="28" fill="#7f8b30"/><rect x="283" y="322" width="3" height="4" fill="#7f8b30"/><rect x="288" y="306" width="1" height="29" fill="#463cb5"/><rect x="287" y="321" width="3" height="13" fill="#463cb5"/><rect x="292" y="297" width="1" height="32" fill="#7f8b30"/><rect x="291" y="303" width="3" height="24" fill="#7f8b30"/><rect x="296" y="272" width="1" height="49" fill="#7f8b30"/><rect x="295" y="278" width="3" height="24" fill="#7f8b30"/><rect x="300" y="272" width="1" height="60" fill="#463cb5"/><rect x="299" y="273" width="3" height="55" fill="#463cb5"/><rect x="304" y="299" width="1" height="49" fill="#463cb5"/><rect x="303" y="324" width="3" height="8" fill="#463cb5"/><rect x="308" y="319" width="1" height="26" fill="#463cb5"/><rect x="307" y="329" width="3" height="5" fill="#463cb5"/><rect x="312" y="312" width="1" height="40" fill="#463cb5"/><rect x="311" y="332" width="3" height="18" fill="#463cb5"/><rect x="316" y="324" width="1" height="32" fill="#7f8b30"/><rect x="315" y="347" width="3" height="3" fill="#7f8b30"/><rect x="320" y="300" width="1" height="51" fill="#7f8b30"/><rect x="319" y="306" width="3" height="41" fill="#7f8b30"/><rect x="324" y="294" width="1" height="44" fill="#463cb5"/><rect x="323" y="305" width="3" height="32" fill="#463cb5"/><rect x="328" y="323" width="1" height="27" fill="#463cb5"/><rect x="327" y="333" width="3" height="11" fill="#463cb5"/><rect x="332" y="338" width="1" height="34" fill="#463cb5"/><rect x="331" y="340" width="3" height="28" fill="#463cb5"/><rect x="336" y="330" width="1" height="38" fill="#7f8b30"/><rect x="335" y="341" width="3" height="27" fill="#7f8b30"/><rect x="340" y="326" width="1" height="29" fill="#7f8b30"/><rect x="339" y="336" width="3" height="10" fill="#7f8b30"/><rect x="343" y="293" width="1" height="47" fill="#7f8b30"/><rect x="342" y="299" width="3" height="40" fill="#7f8b30"/><rect x="347" y="289" width="1" height="34" fill="#463cb5"/><rect x="346" y="296" width="3" height="10" fill="#463cb5"/><rect x="351" y="274" width="1" height="33" fill="#7f8b30"/><rect x="350" y="277" width="3" height="27" fill="#7f8b30"/><rect x="355" y="273" width="1" height="23" fill="#463cb5"/><rect x="354" y="273" width="3" height="17" fill="#463cb5"/><rect x="359" y="293" width="1" height="39" fill="#463cb5"/><rect x="358" y="300" width="3" height="14" fill="#463cb5"/><rect x="363" y="288" width="1" height="31" fill="#7f8b30"/><rect x="362" y="305" width="3" height="5" fill="#7f8b30"/><rect x="367" y="291" width="1" height="34" fill="#463cb5"/><rect x="366" y="314" width="3" height="6" fill="#463cb5"/><rect x="371" y="308" width="1" height="24" fill="#7f8b30"/><rect x="370" y="317" width="3" height="8" fill="#7f8b30"/><rect x="375" y="306" width="1" height="24" fill="#463cb5"/><rect x="374" y="318" width="3" height="5" fill="#463cb5"/><rect x="379" y="296" width="1" height="23" fill="#7f8b30"/><rect x="378" y="302" width="3" height="14" fill="#7f8b30"/><rect x="383" y="289" width="1" height="30" fill="#463cb5"/><rect x="382" y="301" width="3" height="14" fill="#463cb5"/><rect x="387" y="289" width="1" height="28" fill="#7f8b30"/><rect x="386" y="291" width="3" height="22" fill="#7f8b30"/><rect x="391" y="271" width="1" height="32" fill="#7f8b30"/><rect x="390" y="283" width="3" height="14" fill="#7f8b30"/><rect x="395" y="261" width="1" height="25" fill="#7f8b30"/><rect x="394" y="267" width="3" height="14" fill="#7f8b30"/><rect x="399" y="224" width="1" height="42" fill="#7f8b30"/><rect x="398" y="236" width="3" height="29" fill="#7f8b30"/><rect x="403" y="209" width="1" height="37" fill="#7f8b30"/><rect x="402" y="218" width="3" height="19" fill="#7f8b30"/><rect x="407" y="195" width="1" height="40" fill="#463cb5"/><rect x="406" y="216" width="3" height="11" fill="#463cb5"/><rect x="411" y="206" width="1" height="31" fill="#7f8b30"/><rect x="410" y="211" width="3" height="15" fill="#7f8b30"/><rect x="415" y="190" width="1" height="46" fill="#463cb5"/><rect x="414" y="206" width="3" height="27" fill="#463cb5"/><rect x="419" y="210" width="1" height="33" fill="#7f8b30"/><rect x="418" y="219" width="3" height="14" fill="#7f8b30"/><rect x="423" y="132" width="1" height="85" fill="#7f8b30"/><rect x="422" y="160" width="3" height="51" fill="#7f8b30"/><rect x="427" y="101" width="1" height="61" fill="#7f8b30"/><rect x="426" y="111" width="3" height="50" fill="#7f8b30"/><rect x="431" y="105" width="1" height="37" fill="#463cb5"/><rect x="430" y="111" width="3" height="30" fill="#463cb5"/><rect x="435" y="68" width="1" height="78" fill="#7f8b30"/><rect x="434" y="84" width="3" height="44" fill="#7f8b30"/><rect x="439" y="102" width="1" height="51" fill="#463cb5"/><rect x="438" y="106" width="3" height="26" fill="#463cb5"/><rect x="443" y="117" width="1" height="31" fill="#463cb5"/><rect x="442" y="131" width="3" height="11" fill="#463cb5"/><rect x="447" y="132" width="1" height="62" fill="#463cb5"/><rect x="446" y="138" width="3" height="39" fill="#463cb5"/><rect x="451" y="163" width="1" height="26" fill="#463cb5"/><rect x="450" y="176" width="3" height="9" fill="#463cb5"/><rect x="455" y="173" width="1" height="41" fill="#463cb5"/><rect x="454" y="185" width="3" height="19" fill="#463cb5"/><rect x="458" y="190" width="1" height="27" fill="#7f8b30"/><rect x="457" y="203" width="3" height="8" fill="#7f8b30"/><rect x="462" y="192" width="1" height="61" fill="#463cb5"/><rect x="461" y="205" width="3" height="31" fill="#463cb5"/><rect x="466" y="210" width="1" height="30" fill="#7f8b30"/><rect x="465" y="222" width="3" height="14" fill="#7f8b30"/><rect x="470" y="216" width="1" height="38" fill="#463cb5"/><rect x="469" y="218" width="3" height="30" fill="#463cb5"/><rect x="474" y="221" width="1" height="39" fill="#463cb5"/><rect x="473" y="239" width="3" height="7" fill="#463cb5"/><rect x="478" y="221" width="1" height="40" fill="#463cb5"/><rect x="477" y="235" width="3" height="15" fill="#463cb5"/><rect x="482" y="191" width="1" height="68" fill="#463cb5"/><rect x="481" y="215" width="3" height="21" fill="#463cb5"/><rect x="486" y="231" width="1" height="59" fill="#7f8b30"/><rect x="485" y="246" width="3" height="8" fill="#7f8b30"/><rect x="490" y="240" width="1" height="45" fill="#463cb5"/><rect x="489" y="243" width="3" height="40" fill="#463cb5"/><rect x="494" y="264" width="1" height="32" fill="#463cb5"/><rect x="493" y="279" width="3" height="15" fill="#463cb5"/><rect x="498" y="274" width="1" height="23" fill="#7f8b30"/><rect x="497" y="283" width="3" height="12" fill="#7f8b30"/><rect x="502" y="249" width="1" height="37" fill="#7f8b30"/><rect x="501" y="254" width="3" height="30" fill="#7f8b30"/><rect x="506" y="224" width="1" height="30" fill="#7f8b30"/><rect x="505" y="232" width="3" height="19" fill="#7f8b30"/><rect x="510" y="234" width="1" height="44" fill="#463cb5"/><rect x="509" y="234" width="3" height="43" fill="#463cb5"/><rect x="514" y="270" width="1" height="30" fill="#7f8b30"/><rect x="513" y="277" width="3" height="1" fill="#7f8b30"/><rect x="518" y="261" width="1" height="33" fill="#463cb5"/><rect x="517" y="272" width="3" height="17" fill="#463cb5"/><rect x="522" y="261" width="1" height="42" fill="#7f8b30"/><rect x="521" y="265" width="3" height="25" fill="#7f8b30"/><rect x="526" y="241" width="1" height="27" fill="#7f8b30"/><rect x="525" y="259" width="3" height="8" fill="#7f8b30"/><rect x="530" y="237" width="1" height="30" fill="#7f8b30"/><rect x="529" y="251" width="3" height="14" fill="#7f8b30"/><rect x="534" y="244" width="1" height="56" fill="#463cb5"/><rect x="533" y="248" width="3" height="49" fill="#463cb5"/><rect x="538" y="284" width="1" height="27" fill="#7f8b30"/><rect x="537" y="290" width="3" height="21" fill="#7f8b30"/><rect x="542" y="278" width="1" height="55" fill="#463cb5"/><rect x="541" y="285" width="3" height="44" fill="#463cb5"/><rect x="546" y="321" width="1" height="19" fill="#463cb5"/><rect x="545" y="325" width="3" height="11" fill="#463cb5"/><rect x="550" y="293" width="1" height="42" fill="#7f8b30"/><rect x="549" y="297" width="3" height="35" fill="#7f8b30"/><rect x="554" y="299" width="1" height="24" fill="#463cb5"/><rect x="553" y="301" width="3" height="10" fill="#463cb5"/><rect x="558" y="292" width="1" height="59" fill="#463cb5"/><rect x="557" y="306" width="3" height="35" fill="#463cb5"/><rect x="562" y="337" width="1" height="39" fill="#463cb5"/><rect x="561" y="339" width="3" height="5" fill="#463cb5"/><rect x="566" y="347" width="1" height="62" fill="#463cb5"/><rect x="565" y="347" width="3" height="40" fill="#463cb5"/><rect x="570" y="369" width="1" height="32" fill="#463cb5"/><rect x="569" y="385" width="3" height="1" fill="#463cb5"/><rect x="574" y="344" width="1" height="47" fill="#7f8b30"/><rect x="573" y="370" width="3" height="17" fill="#7f8b30"/><rect x="577" y="358" width="1" height="40" fill="#463cb5"/><rect x="576" y="369" width="3" height="26" fill="#463cb5"/><rect x="581" y="367" width="1" height="40" fill="#7f8b30"/><rect x="580" y="388" width="3" height="7" fill="#7f8b30"/><rect x="585" y="352" width="1" height="38" fill="#7f8b30"/><rect x="584" y="356" width="3" height="25" fill="#7f8b30"/><rect x="589" y="351" width="1" height="34" fill="#463cb5"/><rect x="588" y="356" width="3" height="26" fill="#463cb5"/><rect x="593" y="361" width="1" height="19" fill="#7f8b30"/><rect x="592" y="367" width="3" height="10" fill="#7f8b30"/><rect x="597" y="341" width="1" height="26" fill="#7f8b30"/><rect x="596" y="358" width="3" height="7" fill="#7f8b30"/><rect x="601" y="338" width="1" height="46" fill="#463cb5"/><rect x="600" y="365" width="3" height="12" fill="#463cb5"/><rect x="605" y="362" width="1" height="29" fill="#7f8b30"/><rect x="604" y="373" width="3" height="8" fill="#7f8b30"/><rect x="609" y="340" width="1" height="39" fill="#7f8b30"/><rect x="608" y="348" width="3" height="23" fill="#7f8b30"/><rect x="613" y="335" width="1" height="22" fill="#463cb5"/><rect x="612" y="341" width="3" height="3" fill="#463cb5"/><rect x="617" y="320" width="1" height="30" fill="#7f8b30"/><rect x="616" y="325" width="3" height="17" fill="#7f8b30"/><rect x="621" y="313" width="1" height="25" fill="#463cb5"/><rect x="620" y="323" width="3" height="4" fill="#463cb5"/><rect x="625" y="300" width="1" height="25" fill="#7f8b30"/><rect x="624" y="313" width="3" height="12" fill="#7f8b30"/><rect x="629" y="306" width="1" height="19" fill="#463cb5"/><rect x="628" y="307" width="3" height="1" fill="#463cb5"/><rect x="633" y="303" width="1" height="27" fill="#463cb5"/><rect x="632" y="307" width="3" height="13" fill="#463cb5"/><rect x="637" y="265" width="1" height="66" fill="#7f8b30"/><rect x="636" y="273" width="3" height="46" fill="#7f8b30"/><rect x="641" y="260" width="1" height="22" fill="#463cb5"/><rect x="640" y="275" width="3" height="5" fill="#463cb5"/><rect x="645" y="256" width="1" height="36" fill="#7f8b30"/><rect x="644" y="267" width="3" height="13" fill="#7f8b30"/><rect x="649" y="296" width="1" height="97" fill="#463cb5"/><rect x="648" y="297" width="3" height="76" fill="#463cb5"/><rect x="653" y="373" width="1" height="142" fill="#463cb5"/><rect x="652" y="379" width="3" height="104" fill="#463cb5"/><rect x="657" y="439" width="1" height="109" fill="#463cb5"/><rect x="656" y="501" width="3" height="10" fill="#463cb5"/><rect x="661" y="487" width="1" height="85" fill="#463cb5"/><rect x="660" y="503" width="3" height="33" fill="#463cb5"/><rect x="665" y="461" width="1" height="172" fill="#7f8b30"/><rect x="664" y="474" width="3" height="89" fill="#7f8b30"/><rect x="669" y="452" width="1" height="101" fill="#463cb5"/><rect x="668" y="466" width="3" height="59" fill="#463cb5"/><rect x="673" y="484" width="1" height="53" fill="#7f8b30"/><rect x="672" y="492" width="3" height="30" fill="#7f8b30"/><rect x="677" y="466" width="1" height="46" fill="#463cb5"/><rect x="676" y="488" width="3" height="4" fill="#463cb5"/><rect x="681" y="480" width="1" height="26" fill="#463cb5"/><rect x="680" y="491" width="3" height="5" fill="#463cb5"/><rect x="685" y="460" width="1" height="56" fill="#7f8b30"/><rect x="684" y="471" width="3" height="20" fill="#7f8b30"/><rect x="689" y="433" width="1" height="52" fill="#7f8b30"/><rect x="688" y="437" width="3" height="46" fill="#7f8b30"/><rect x="692" y="442" width="1" height="45" fill="#463cb5"/><rect x="691" y="445" width="3" height="27" fill="#463cb5"/><rect x="696" y="429" width="1" height="37" fill="#7f8b30"/><rect x="695" y="445" width="3" height="20" fill="#7f8b30"/><rect x="700" y="418" width="1" height="74" fill="#463cb5"/><rect x="699" y="437" width="3" height="38" fill="#463cb5"/><rect x="704" y="452" width="1" height="30" fill="#7f8b30"/><rect x="703" y="464" width="3" height="11" fill="#7f8b30"/><rect x="708" y="450" width="1" height="36" fill="#7f8b30"/><rect x="707" y="458" width="3" height="4" fill="#7f8b30"/><rect x="712" y="439" width="1" height="54" fill="#463cb5"/><rect x="711" y="448" width="3" height="33" fill="#463cb5"/><rect x="716" y="480" width="1" height="42" fill="#463cb5"/><rect x="715" y="483" width="3" height="34" fill="#463cb5"/><rect x="720" y="516" width="1" height="55" fill="#463cb5"/><rect x="719" y="521" width="3" height="45" fill="#463cb5"/><rect x="724" y="536" width="1" height="69" fill="#7f8b30"/><rect x="723" y="542" width="3" height="25" fill="#7f8b30"/><rect x="728" y="528" width="1" height="46" fill="#463cb5"/><rect x="727" y="548" width="3" height="16" fill="#463cb5"/><rect x="732" y="576" width="1" height="52" fill="#7f8b30"/><rect x="731" y="589" width="3" height="8" fill="#7f8b30"/><rect x="736" y="529" width="1" height="62" fill="#7f8b30"/><rect x="735" y="545" width="3" height="42" fill="#7f8b30"/><rect x="740" y="520" width="1" height="54" fill="#463cb5"/><rect x="739" y="548" width="3" height="20" fill="#463cb5"/><rect x="744" y="519" width="1" height="56" fill="#7f8b30"/><rect x="743" y="527" width="3" height="47" fill="#7f8b30"/><rect x="748" y="494" width="1" height="33" fill="#7f8b30"/><rect x="747" y="502" width="3" height="18" fill="#7f8b30"/><rect x="752" y="446" width="1" height="56" fill="#7f8b30"/><rect x="751" y="481" width="3" height="15" fill="#7f8b30"/><rect x="756" y="440" width="1" height="48" fill="#7f8b30"/><rect x="755" y="445" width="3" height="36" fill="#7f8b30"/><rect x="760" y="443" width="1" height="22" fill="#463cb5"/><rect x="759" y="446" width="3" height="11" fill="#463cb5"/><rect x="764" y="461" width="1" height="54" fill="#463cb5"/><rect x="763" y="461" width="3" height="29" fill="#463cb5"/><rect x="768" y="478" width="1" height="29" fill="#7f8b30"/><rect x="767" y="481" width="3" height="18" fill="#7f8b30"/><rect x="772" y="467" width="1" height="37" fill="#7f8b30"/><rect x="771" y="478" width="3" height="4" fill="#7f8b30"/><rect x="776" y="468" width="1" height="24" fill="#463cb5"/><rect x="775" y="478" width="3" height="3" fill="#463cb5"/><rect x="780" y="435" width="1" height="61" fill="#463cb5"/><rect x="779" y="475" width="3" height="15" fill="#463cb5"/><rect x="784" y="485" width="1" height="34" fill="#463cb5"/><rect x="783" y="496" width="3" height="4" fill="#463cb5"/><rect x="788" y="483" width="1" height="41" fill="#7f8b30"/><rect x="787" y="492" width="3" height="16" fill="#7f8b30"/><rect x="792" y="478" width="1" height="42" fill="#463cb5"/><rect x="791" y="488" width="3" height="18" fill="#463cb5"/><rect x="796" y="469" width="1" height="37" fill="#7f8b30"/><rect x="795" y="485" width="3" height="18" fill="#7f8b30"/><rect x="800" y="458" width="1" height="54" fill="#463cb5"/><rect x="799" y="485" width="3" height="21" fill="#463cb5"/><rect x="804" y="487" width="1" height="44" fill="#463cb5"/><rect x="803" y="505" width="3" height="3" fill="#463cb5"/><rect x="807" y="440" width="1" height="61" fill="#7f8b30"/><rect x="806" y="470" width="3" height="31" fill="#7f8b30"/><rect x="811" y="440" width="1" height="31" fill="#7f8b30"/><rect x="810" y="450" width="3" height="10" fill="#7f8b30"/><rect x="815" y="438" width="1" height="40" fill="#463cb5"/><rect x="814" y="451" width="3" height="12" fill="#463cb5"/><rect x="819" y="438" width="1" height="31" fill="#7f8b30"/><rect x="818" y="451" width="3" height="14" fill="#7f8b30"/><rect x="823" y="421" width="1" height="41" fill="#7f8b30"/><rect x="822" y="423" width="3" height="35" fill="#7f8b30"/><rect x="827" y="403" width="1" height="29" fill="#7f8b30"/><rect x="826" y="408" width="3" height="13" fill="#7f8b30"/><rect x="831" y="388" width="1" height="36" fill="#463cb5"/><rect x="830" y="405" width="3" height="12" fill="#463cb5"/><rect x="835" y="343" width="1" height="81" fill="#7f8b30"/><rect x="834" y="347" width="3" height="74" fill="#7f8b30"/><rect x="839" y="321" width="1" height="56" fill="#463cb5"/><rect x="838" y="326" width="3" height="23" fill="#463cb5"/><rect x="843" y="137" width="1" height="198" fill="#7f8b30"/><rect x="842" y="240" width="3" height="90" fill="#7f8b30"/><rect x="847" y="140" width="1" height="178" fill="#463cb5"/><rect x="846" y="161" width="3" height="106" fill="#463cb5"/><rect x="851" y="219" width="1" height="95" fill="#7f8b30"/><rect x="850" y="232" width="3" height="82" fill="#7f8b30"/><rect x="855" y="211" width="1" height="65" fill="#463cb5"/><rect x="854" y="216" width="3" height="12" fill="#463cb5"/><rect x="859" y="179" width="1" height="75" fill="#7f8b30"/><rect x="858" y="221" width="3" height="20" fill="#7f8b30"/><rect x="863" y="120" width="1" height="260" fill="#463cb5"/><rect x="862" y="129" width="3" height="209" fill="#463cb5"/><rect x="867" y="354" width="1" height="82" fill="#463cb5"/><rect x="866" y="355" width="3" height="75" fill="#463cb5"/><rect x="871" y="393" width="1" height="32" fill="#463cb5"/><rect x="870" y="413" width="3" height="5" fill="#463cb5"/><rect x="875" y="384" width="1" height="38" fill="#7f8b30"/><rect x="874" y="410" width="3" height="7" fill="#7f8b30"/><rect x="879" y="391" width="1" height="32" fill="#7f8b30"/><rect x="878" y="404" width="3" height="6" fill="#7f8b30"/><rect x="883" y="398" width="1" height="27" fill="#463cb5"/><rect x="882" y="411" width="3" height="1" fill="#463cb5"/><rect x="887" y="394" width="1" height="28" fill="#7f8b30"/><rect x="886" y="405" width="3" height="12" fill="#7f8b30"/><rect x="891" y="358" width="1" height="49" fill="#7f8b30"/><rect x="890" y="360" width="3" height="47" fill="#7f8b30"/><rect x="895" y="357" width="1" height="23" fill="#463cb5"/><rect x="894" y="359" width="3" height="12" fill="#463cb5"/><rect x="899" y="342" width="1" height="60" fill="#7f8b30"/><rect x="898" y="351" width="3" height="51" fill="#7f8b30"/><rect x="903" y="329" width="1" height="34" fill="#7f8b30"/><rect x="902" y="342" width="3" height="9" fill="#7f8b30"/><rect x="907" y="328" width="1" height="29" fill="#7f8b30"/><rect x="906" y="340" width="3" height="6" fill="#7f8b30"/><rect x="911" y="335" width="1" height="48" fill="#463cb5"/><rect x="910" y="343" width="3" height="39" fill="#463cb5"/><rect x="915" y="332" width="1" height="49" fill="#7f8b30"/><rect x="914" y="339" width="3" height="37" fill="#7f8b30"/><rect x="919" y="313" width="1" height="63" fill="#463cb5"/><rect x="918" y="334" width="3" height="41" fill="#463cb5"/><rect x="922" y="368" width="1" height="19" fill="#463cb5"/><rect x="921" y="374" width="3" height="9" fill="#463cb5"/><rect x="926" y="371" width="1" height="35" fill="#463cb5"/><rect x="925" y="377" width="3" height="9" fill="#463cb5"/><rect x="930" y="357" width="1" height="24" fill="#7f8b30"/><rect x="929" y="359" width="3" height="22" fill="#7f8b30"/><rect x="934" y="359" width="1" height="36" fill="#463cb5"/><rect x="933" y="386" width="3" height="7" fill="#463cb5"/><rect x="938" y="383" width="1" height="27" fill="#463cb5"/><rect x="937" y="392" width="3" height="11" fill="#463cb5"/></g>
<g><path d="M7,657.5 H41.5 V677.5 H7 Z" fill="#fff"/><path d="M9,660 H20.7 V674.8 H15.1 V666 H9 Z" fill="#000"/><circle cx="26" cy="662.9" r="2.8" fill="#000"/><path d="M30.2,660 H38.8 L34.1,674.8 H26.3 Z" fill="#000"/></g>
<circle cx="15" cy="15" r="9" fill="#111"/><path d="M15,9 C13.6,11.2 11.5,13.8 11.5,16.4 C11.5,18.4 13.1,19.9 15,19.9 C16.9,19.9 18.5,18.4 18.5,16.4 C18.5,13.8 16.4,11.2 15,9 Z" fill="#fff"/><text x="28.5" y="20.7" font-size="14.5" fill="#131722" font-weight="normal" text-anchor="start" textLength="34.0" lengthAdjust="spacingAndGlyphs">Light</text><text x="68.75" y="20.7" font-size="14.5" fill="#131722" font-weight="normal" text-anchor="start" textLength="41.25" lengthAdjust="spacingAndGlyphs">Crude</text><text x="115.6" y="20.7" font-size="14.5" fill="#131722" font-weight="normal" text-anchor="start" textLength="18.8" lengthAdjust="spacingAndGlyphs">Oil</text><text x="139.4" y="20.7" font-size="14.5" fill="#131722" font-weight="normal" text-anchor="start" textLength="54.2" lengthAdjust="spacingAndGlyphs">Futures</text><text x="207.7" y="20.7" font-size="14.5" fill="#131722" font-weight="normal" text-anchor="start" textLength="16.3" lengthAdjust="spacingAndGlyphs">1D</text><text x="236.6" y="20.7" font-size="14.5" fill="#131722" font-weight="normal" text-anchor="start" textLength="47.6" lengthAdjust="spacingAndGlyphs">NYMEX</text><circle cx="200.2" cy="16" r="1.25" fill="#131722"/><circle cx="230.2" cy="16" r="1.25" fill="#131722"/><path d="M309,6 H320 V24 H309 A9,9 0 0 1 309,6 Z" fill="#ebefe2"/><path d="M320,6 H331 A9,9 0 0 1 331,24 H320 Z" fill="#cde6fa"/><circle cx="311" cy="15" r="3.6" fill="#7d951f"/><text x="325" y="19.5" font-size="12" fill="#2a72c4" font-weight="normal" text-anchor="start" textLength="8.2" lengthAdjust="spacingAndGlyphs">D</text><text x="355" y="19.5" font-size="12" fill="#131722" font-weight="normal" text-anchor="start" textLength="9" lengthAdjust="spacingAndGlyphs">O</text><text x="365" y="19.5" font-size="12" fill="#4d43a8" font-weight="normal" text-anchor="start" textLength="32" lengthAdjust="spacingAndGlyphs">66.04</text><text x="403.4" y="19.5" font-size="12" fill="#131722" font-weight="normal" text-anchor="start" textLength="8.6" lengthAdjust="spacingAndGlyphs">H</text><text x="412.8" y="19.5" font-size="12" fill="#4d43a8" font-weight="normal" text-anchor="start" textLength="31.9" lengthAdjust="spacingAndGlyphs">66.44</text><text x="451.2" y="19.5" font-size="12" fill="#131722" font-weight="normal" text-anchor="start" textLength="6.3" lengthAdjust="spacingAndGlyphs">L</text><text x="458" y="19.5" font-size="12" fill="#4d43a8" font-weight="normal" text-anchor="start" textLength="31" lengthAdjust="spacingAndGlyphs">65.21</text><text x="496" y="19.5" font-size="12" fill="#131722" font-weight="normal" text-anchor="start" textLength="8.5" lengthAdjust="spacingAndGlyphs">C</text><text x="505" y="19.5" font-size="12" fill="#4d43a8" font-weight="normal" text-anchor="start" textLength="32" lengthAdjust="spacingAndGlyphs">65.56</text><text x="544" y="19.5" font-size="12" fill="#4d43a8" font-weight="normal" text-anchor="start" textLength="30" lengthAdjust="spacingAndGlyphs">−0.49</text><text x="580" y="19.5" font-size="12" fill="#4d43a8" font-weight="normal" text-anchor="start" textLength="48.4" lengthAdjust="spacingAndGlyphs">(−0.74%)</text><rect x="5.5" y="31.5" width="54" height="33.5" rx="6" fill="#fff" stroke="#5b5e9e" stroke-width="1.1"/><rect x="95.5" y="31.5" width="54" height="33.5" rx="6" fill="#fff" stroke="#d99a80" stroke-width="1.1"/><text x="16.5" y="45.7" font-size="11.8" fill="#5557a8" font-weight="bold" text-anchor="start" textLength="31.6" lengthAdjust="spacingAndGlyphs">65.55</text><text x="20.6" y="59.5" font-size="10.2" fill="#474b8e" font-weight="normal" text-anchor="start" textLength="23.2" lengthAdjust="spacingAndGlyphs">SELL</text><text x="67.5" y="52" font-size="9.5" fill="#131722" font-weight="normal" text-anchor="start" textLength="18.7" lengthAdjust="spacingAndGlyphs">0.01</text><text x="106.9" y="45.7" font-size="11.8" fill="#cf7650" font-weight="bold" text-anchor="start" textLength="31.2" lengthAdjust="spacingAndGlyphs">65.56</text><text x="111.9" y="59.5" font-size="10.2" fill="#c97a58" font-weight="normal" text-anchor="start" textLength="20" lengthAdjust="spacingAndGlyphs">BUY</text><path d="M2,73 H85 V97 H130 V120 H124 V140 H2 Z" fill="#fff" fill-opacity="0.6"/><text x="6.3" y="85.8" font-size="11.5" fill="#131722" font-weight="normal" text-anchor="start" textLength="16.7" lengthAdjust="spacingAndGlyphs">Vol</text><text x="32.7" y="85.8" font-size="11.5" fill="#6e6ad0" font-weight="normal" text-anchor="start" textLength="47.3" lengthAdjust="spacingAndGlyphs">156.92 K</text><text x="6.3" y="109.8" font-size="11.5" fill="#131722" font-weight="normal" text-anchor="start" textLength="23.5" lengthAdjust="spacingAndGlyphs">EMA</text><text x="33" y="109.8" font-size="11.5" fill="#5d606b" font-weight="normal" text-anchor="start" textLength="53.4" lengthAdjust="spacingAndGlyphs">200 close</text><text x="95.4" y="109.8" font-size="11.5" fill="#e07a52" font-weight="normal" text-anchor="start" textLength="30.6" lengthAdjust="spacingAndGlyphs">68.28</text><text x="6.3" y="133.5" font-size="11.5" fill="#131722" font-weight="normal" text-anchor="start" textLength="23.5" lengthAdjust="spacingAndGlyphs">EMA</text><text x="33" y="133.5" font-size="11.5" fill="#5d606b" font-weight="normal" text-anchor="start" textLength="46.4" lengthAdjust="spacingAndGlyphs">50 close</text><text x="88.4" y="133.5" font-size="11.5" fill="#4f49b0" font-weight="normal" text-anchor="start" textLength="30.6" lengthAdjust="spacingAndGlyphs">66.07</text><rect x="3.5" y="144.5" width="28" height="19.5" rx="3" fill="#fff" fill-opacity="0.72" stroke="#d6d6d6" stroke-width="1"/><path d="M13.4,156.3 L17.6,152.6 L21.7,156.1" fill="none" stroke="#131722" stroke-width="1.3"/><text x="1251.5" y="44.5" font-size="11.5" fill="#acacae" font-weight="normal" text-anchor="end" textLength="29.3" lengthAdjust="spacingAndGlyphs">82.00</text><text x="1251.5" y="88.6" font-size="11.5" fill="#acacae" font-weight="normal" text-anchor="end" textLength="29.3" lengthAdjust="spacingAndGlyphs">80.00</text><text x="1251.5" y="132.7" font-size="11.5" fill="#acacae" font-weight="normal" text-anchor="end" textLength="29.3" lengthAdjust="spacingAndGlyphs">78.00</text><text x="1251.5" y="176.8" font-size="11.5" fill="#acacae" font-weight="normal" text-anchor="end" textLength="29.3" lengthAdjust="spacingAndGlyphs">76.00</text><text x="1251.5" y="220.9" font-size="11.5" fill="#acacae" font-weight="normal" text-anchor="end" textLength="29.3" lengthAdjust="spacingAndGlyphs">74.00</text><text x="1251.5" y="265.0" font-size="11.5" fill="#acacae" font-weight="normal" text-anchor="end" textLength="29.3" lengthAdjust="spacingAndGlyphs">72.00</text><text x="1251.5" y="309.1" font-size="11.5" fill="#acacae" font-weight="normal" text-anchor="end" textLength="29.3" lengthAdjust="spacingAndGlyphs">70.00</text><text x="1251.5" y="353.2" font-size="11.5" fill="#acacae" font-weight="normal" text-anchor="end" textLength="29.3" lengthAdjust="spacingAndGlyphs">68.00</text><text x="1251.5" y="485.5" font-size="11.5" fill="#acacae" font-weight="normal" text-anchor="end" textLength="29.3" lengthAdjust="spacingAndGlyphs">62.00</text><text x="1251.5" y="529.6" font-size="11.5" fill="#acacae" font-weight="normal" text-anchor="end" textLength="29.3" lengthAdjust="spacingAndGlyphs">60.00</text><text x="1251.5" y="573.7" font-size="11.5" fill="#acacae" font-weight="normal" text-anchor="end" textLength="29.3" lengthAdjust="spacingAndGlyphs">58.00</text><text x="1251.5" y="617.8" font-size="11.5" fill="#acacae" font-weight="normal" text-anchor="end" textLength="29.3" lengthAdjust="spacingAndGlyphs">56.00</text><text x="1251.5" y="661.9" font-size="11.5" fill="#acacae" font-weight="normal" text-anchor="end" textLength="29.3" lengthAdjust="spacingAndGlyphs">54.00</text><text x="56.1" y="707.5" font-size="12" fill="#acacae" font-weight="normal" text-anchor="start" textLength="19" lengthAdjust="spacingAndGlyphs">Sep</text><text x="136.0" y="707.5" font-size="12" fill="#acacae" font-weight="normal" text-anchor="start" textLength="18" lengthAdjust="spacingAndGlyphs">Oct</text><text x="226.0" y="707.5" font-size="12" fill="#acacae" font-weight="normal" text-anchor="start" textLength="20" lengthAdjust="spacingAndGlyphs">Nov</text><text x="305.5" y="707.5" font-size="12" fill="#acacae" font-weight="normal" text-anchor="start" textLength="20" lengthAdjust="spacingAndGlyphs">Dec</text><text x="385.5" y="707.5" font-size="12" fill="#a8abb3" font-weight="bold" text-anchor="start" textLength="27" lengthAdjust="spacingAndGlyphs">2025</text><text x="472.2" y="707.5" font-size="12" fill="#acacae" font-weight="normal" text-anchor="start" textLength="19.5" lengthAdjust="spacingAndGlyphs">Feb</text><text x="547.5" y="707.5" font-size="12" fill="#acacae" font-weight="normal" text-anchor="start" textLength="20" lengthAdjust="spacingAndGlyphs">Mar</text><text x="631.6" y="707.5" font-size="12" fill="#acacae" font-weight="normal" text-anchor="start" textLength="18.7" lengthAdjust="spacingAndGlyphs">Apr</text><text x="713.8" y="707.5" font-size="12" fill="#acacae" font-weight="normal" text-anchor="start" textLength="21.2" lengthAdjust="spacingAndGlyphs">May</text><text x="798.1" y="707.5" font-size="12" fill="#acacae" font-weight="normal" text-anchor="start" textLength="19" lengthAdjust="spacingAndGlyphs">Jun</text><text x="878.9" y="707.5" font-size="12" fill="#acacae" font-weight="normal" text-anchor="start" textLength="16.2" lengthAdjust="spacingAndGlyphs">Jul</text><text x="964.4" y="707.5" font-size="12" fill="#acacae" font-weight="normal" text-anchor="start" textLength="19.2" lengthAdjust="spacingAndGlyphs">Aug</text><text x="1047.2" y="707.5" font-size="12" fill="#acacae" font-weight="normal" text-anchor="start" textLength="19.5" lengthAdjust="spacingAndGlyphs">Sep</text><text x="1131.1" y="707.5" font-size="12" fill="#acacae" font-weight="normal" text-anchor="start" textLength="19" lengthAdjust="spacingAndGlyphs">Oct</text><path d="M1214,335 H1254.8 A2,2 0 0 1 1256.8,337 V349.7 A2,2 0 0 1 1254.8,351.7 H1214 Z" fill="#ef6a2f"/><text x="1221.7" y="348.2" font-size="11.5" fill="#fff4ec" font-weight="bold" text-anchor="start" textLength="30" lengthAdjust="spacingAndGlyphs">68.28</text><path d="M1214,378.4 H1254.8 A2,2 0 0 1 1256.8,380.4 V393.4 A2,2 0 0 1 1254.8,395.4 H1214 Z" fill="#3f36dd"/><path d="M1214,395 H1271.5 A2,2 0 0 1 1273.5,397 V423.6 A2,2 0 0 1 1271.5,425.6 H1214 Z" fill="#3f36dd"/><text x="1221.7" y="391.2" font-size="11.5" fill="#f2f0ff" font-weight="bold" text-anchor="start" textLength="30" lengthAdjust="spacingAndGlyphs">66.07</text><text x="1221.7" y="408" font-size="11.5" fill="#f2f0ff" font-weight="bold" text-anchor="start" textLength="30" lengthAdjust="spacingAndGlyphs">65.56</text><text x="1221.7" y="422.1" font-size="11.5" fill="#dcd8ff" font-weight="bold" text-anchor="start" textLength="46.3" lengthAdjust="spacingAndGlyphs">04:57:35</text><path d="M1214,426 H1254.8 A2,2 0 0 1 1256.8,428 V440.5 A2,2 0 0 1 1254.8,442.5 H1214 Z" fill="#ef6a2f"/><text x="1221.7" y="438.8" font-size="11.5" fill="#fff4ec" font-weight="bold" text-anchor="start" textLength="30" lengthAdjust="spacingAndGlyphs">65.00</text><path d="M1214,643 H1269.6 A2,2 0 0 1 1271.6,645 V657.5 A2,2 0 0 1 1269.6,659.5 H1214 Z" fill="#4a4fd6"/><text x="1221.7" y="655.6" font-size="11.5" fill="#f2f0ff" font-weight="bold" text-anchor="start" textLength="46" lengthAdjust="spacingAndGlyphs">156.92 K</text>
<path d="M1239.4,703.4 L1242.5,697.4 H1250.4 L1253.7,703.4 L1250.4,709.4 H1242.5 Z" fill="none" stroke="#131722" stroke-width="1.1"/><circle cx="1246.4" cy="703.4" r="2" fill="none" stroke="#131722" stroke-width="1.1"/>
<rect x="1279" y="0" width="1" height="718" fill="#202124"/>
<rect x="0" y="717" width="1280" height="1" fill="#202124"/>
</svg>
</body></html>
